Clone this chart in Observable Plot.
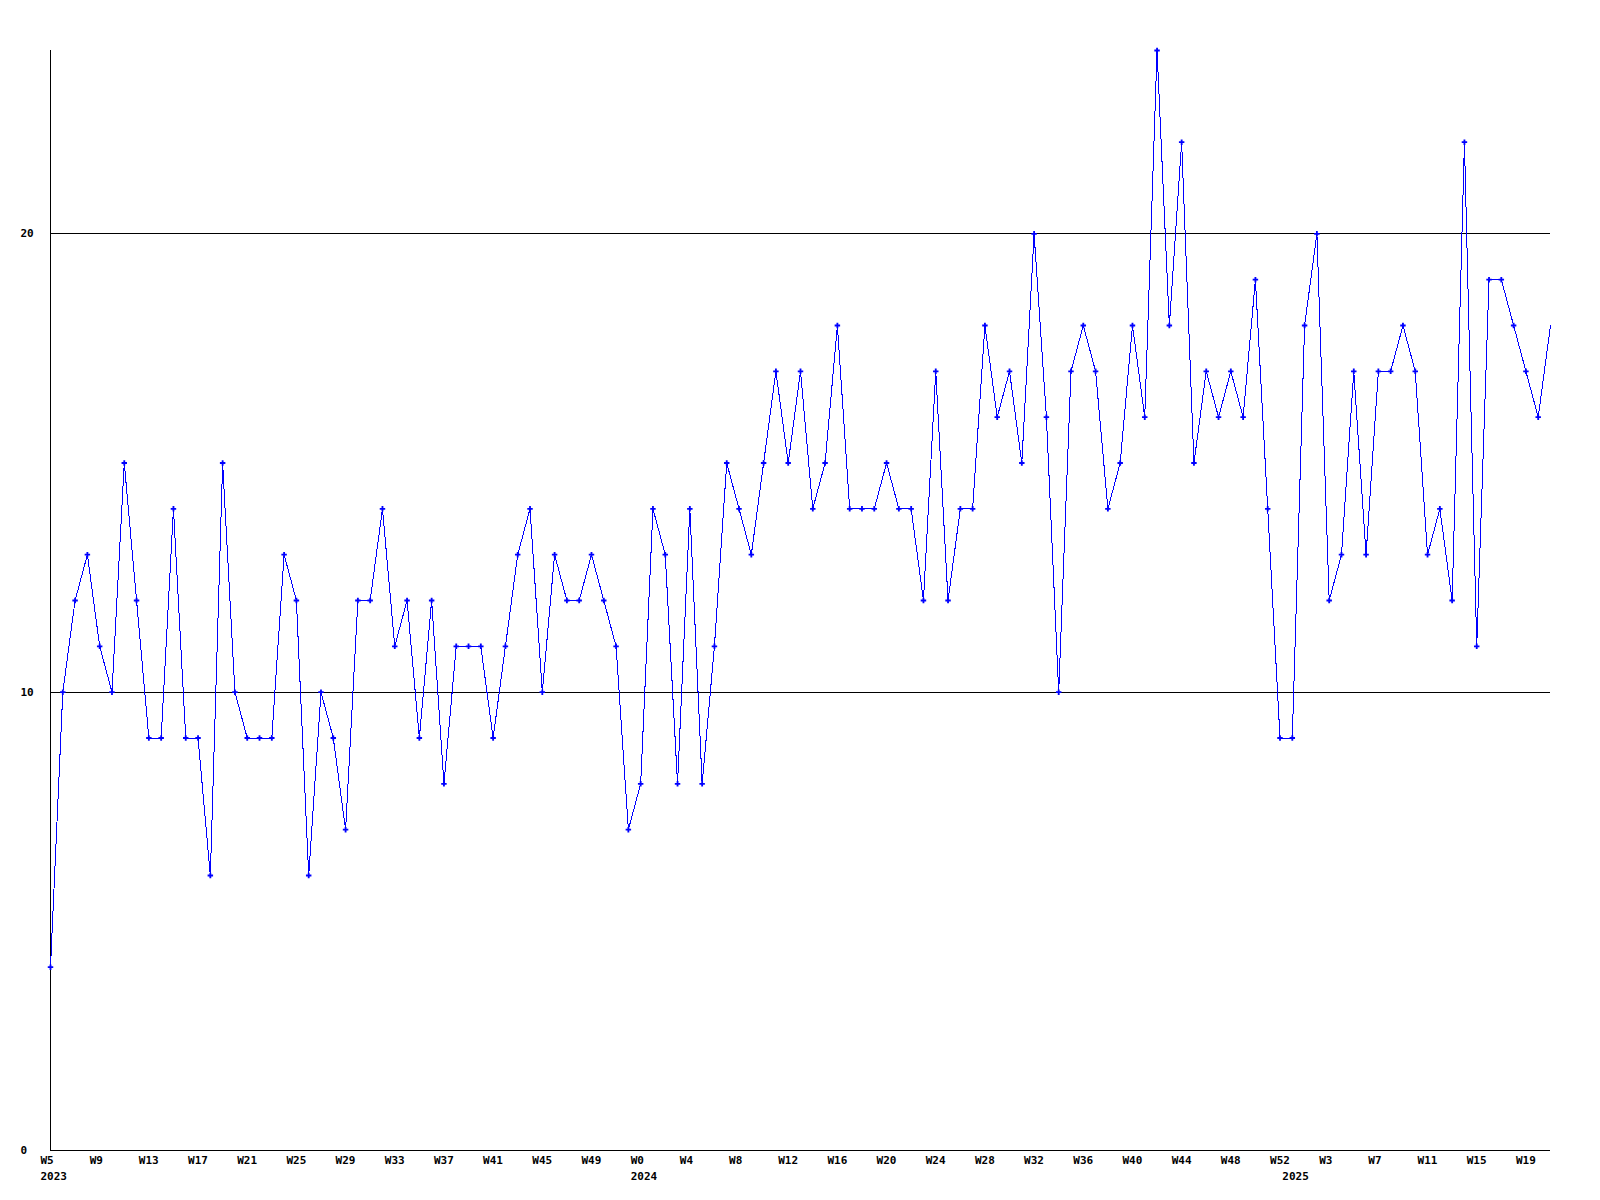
<!DOCTYPE html>
<html>
<head>
<meta charset="utf-8">
<script src="https://cdn.jsdelivr.net/npm/d3@7"></script>
<script src="https://cdn.jsdelivr.net/npm/@observablehq/plot@0.6"></script>
<style>
  html, body { margin: 0; padding: 0; background: #ffffff; }
  #chart svg { display: block; }
</style>
</head>
<body>
<div id="chart"></div>
<script>
const weeks = [
  "2023-W5","2023-W6","2023-W7","2023-W8","2023-W9","2023-W10","2023-W11","2023-W12",
  "2023-W13","2023-W14","2023-W15","2023-W16","2023-W17","2023-W18","2023-W19","2023-W20",
  "2023-W21","2023-W22","2023-W23","2023-W24","2023-W25","2023-W26","2023-W27","2023-W28",
  "2023-W29","2023-W30","2023-W31","2023-W32","2023-W33","2023-W34","2023-W35","2023-W36",
  "2023-W37","2023-W38","2023-W39","2023-W40","2023-W41","2023-W42","2023-W43","2023-W44",
  "2023-W45","2023-W46","2023-W47","2023-W48","2023-W49","2023-W50","2023-W51","2023-W52",
  "2024-W0","2024-W1","2024-W2","2024-W3","2024-W4","2024-W5","2024-W6","2024-W7",
  "2024-W8","2024-W9","2024-W10","2024-W11","2024-W12","2024-W13","2024-W14","2024-W15",
  "2024-W16","2024-W17","2024-W18","2024-W19","2024-W20","2024-W21","2024-W22","2024-W23",
  "2024-W24","2024-W25","2024-W26","2024-W27","2024-W28","2024-W29","2024-W30","2024-W31",
  "2024-W32","2024-W33","2024-W34","2024-W35","2024-W36","2024-W37","2024-W38","2024-W39",
  "2024-W40","2024-W41","2024-W42","2024-W43","2024-W44","2024-W45","2024-W46","2024-W47",
  "2024-W48","2024-W49","2024-W50","2024-W51","2024-W52",
  "2025-W0","2025-W1","2025-W2","2025-W3","2025-W4","2025-W5","2025-W6","2025-W7",
  "2025-W8","2025-W9","2025-W10","2025-W11","2025-W12","2025-W13","2025-W14","2025-W15",
  "2025-W16","2025-W17","2025-W18","2025-W19","2025-W20","2025-W21"
];

const counts = [
  4,10,12,13,11,10,15,12,9,9,14,9,9,6,15,10,9,9,9,13,12,
  6,10,9,7,12,12,14,11,12,9,12,8,11,11,11,9,11,13,14,10,
  13,12,12,13,12,11,7,8,14,13,8,14,8,11,15,14,13,15,17,15,
  17,14,15,18,14,14,14,15,14,14,12,17,12,14,14,18,16,17,15,20,16,
  10,17,18,17,14,15,18,16,24,18,22,15,17,16,17,16,19,14,9,9,
  18,20,12,13,17,13,17,17,18,17,13,14,12,22,11,19,19,18,17,16,18
];

const yTicks = [0, 10, 20];
const gridLines = [10, 20];
const weekTicks = weeks.filter((d, i) => i % 4 === 0);
const yearTicks = ["2023-W5", "2024-W0", "2025-W0"];

const data = weeks.map((w, i) => ({week: w, value: counts[i]}));
// the last point sits on the right edge of the plot; its marker is cut off in the original
const markerData = data.slice(0, data.length - 1);

const chart = Plot.plot({
  width: 1600,
  height: 1200,
  marginLeft: 50,
  marginRight: 50,
  marginTop: 50,
  marginBottom: 50,
  style: {
    fontFamily: "'DejaVu Sans Mono', monospace",
    fontSize: "11px",
    fontWeight: "bold",
    color: "#000",
    background: "#fff",
    overflow: "visible"
  },
  x: {type: "point", domain: weeks, padding: 0},
  y: {domain: [0, 24]},
  marks: [
    Plot.ruleY(gridLines, {stroke: "#000", strokeWidth: 1, shapeRendering: "crispEdges"}),
    Plot.ruleY([0], {stroke: "#000", strokeWidth: 1, shapeRendering: "crispEdges"}),
    Plot.ruleX([weeks[0]], {stroke: "#000", strokeWidth: 1, shapeRendering: "crispEdges"}),
    Plot.axisY({ticks: yTicks, tickSize: 0, tickPadding: 30, textAnchor: "start", label: null}),
    Plot.axisX({ticks: weekTicks, tickSize: 0, tickPadding: 6, textAnchor: "start", dx: -10, tickFormat: d => d.split("-")[1], label: null}),
    Plot.axisX({ticks: yearTicks, tickSize: 0, tickPadding: 22, textAnchor: "start", dx: -10, tickFormat: d => d.slice(0, 4), label: null}),
    Plot.line(data, {x: "week", y: "value", stroke: "#0000ff", strokeWidth: 1, shapeRendering: "crispEdges"}),
    Plot.dot(markerData, {x: "week", y: "value", symbol: "cross", r: 2.3, fill: "#0000ff", stroke: null})
  ]
});
document.getElementById("chart").appendChild(chart);
</script>
</body>
</html>
